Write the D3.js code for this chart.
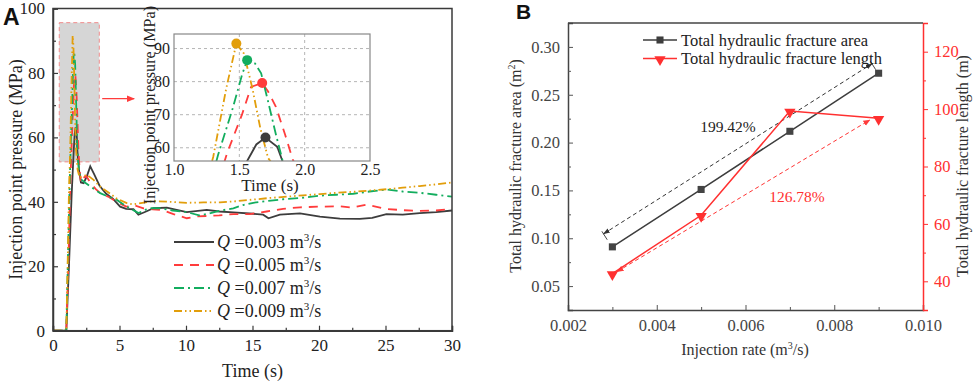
<!DOCTYPE html>
<html>
<head>
<meta charset="utf-8">
<script src="https://cdn.jsdelivr.net/npm/d3@7"></script>
<style>
  body { margin: 0; background: #fff; }
</style>
</head>
<body>
<svg id="chart" width="976" height="384"></svg>
<script>
// ---- panel A data: injection point pressure vs time ----
var timeTicksA = [0, 5, 10, 15, 20, 25, 30];
var pressTicksA = [0, 20, 40, 60, 80, 100];
var insetTimeTicks = [1.0, 1.5, 2.0, 2.5];
var insetPressTicks = [60, 70, 80, 90];
var rateLabels = ["0.003", "0.005", "0.007", "0.009"];

var pressure003 = [[0,0],[1.0,0],[1.2,20],[1.4,42],[1.56,56],[1.63,61],[1.70,63.1],[1.79,60.3],[1.83,56],[1.95,50],[2.1,46],[2.3,45.8],[2.55,48],[2.8,51],[3.1,48.5],[3.5,45],[4,42.5],[4.5,41],[5.05,38.5],[5.5,37.8],[6.05,37.7],[6.42,36],[7,37],[7.55,38],[8.56,38.2],[9.3,37.5],[10.06,36.8],[11.56,37.5],[12.5,37],[13.56,36.7],[15.06,36.3],[15.8,36],[16.2,34.9],[17.06,36],[18.57,36.4],[20.07,35.4],[21.57,34.8],[23.07,34.7],[24,35],[25.07,36.2],[26.3,36],[27.57,36.5],[28.8,36.8],[30,37.3]];
var pressure005 = [[0,0],[1.0,0],[1.15,20],[1.3,45],[1.41,58.8],[1.52,70],[1.59,78.4],[1.675,79.6],[1.72,77],[1.78,72.4],[1.85,64],[1.91,56.3],[2.0,50],[2.1,46],[2.3,47.5],[2.5,48],[2.8,46],[3.2,44],[3.6,42.5],[4.2,41.5],[4.8,40],[5.5,38.5],[6.2,38.8],[6.8,38],[7.5,37.7],[8.2,37.5],[9.06,36.2],[10.06,34.9],[10.8,35.5],[11.56,35.6],[12.5,35.8],[13.56,36.2],[14.8,36.2],[16.06,37],[17.3,37.8],[18.57,38.3],[20.07,38.5],[21.57,38.6],[22.5,38.2],[23.57,39.1],[25.07,37.8],[26.3,37.4],[27.57,37.2],[28.8,37.3],[30,37.8]];
var pressure007 = [[0,0],[1.0,0],[1.12,22],[1.25,45],[1.337,57.8],[1.45,72],[1.52,82],[1.56,86.5],[1.62,85.5],[1.667,82.5],[1.72,74],[1.78,64],[1.83,56.3],[1.95,50],[2.1,47],[2.4,46],[2.8,44.8],[3.55,42.7],[4.2,41.5],[4.8,40.6],[5.55,38.5],[6.0,37.5],[6.43,36.5],[6.9,37.5],[7.3,38],[8.05,38],[9.0,37.3],[10.06,36.8],[11.0,35.8],[11.56,36.2],[12.5,37.2],[13.56,38],[14.3,39],[15.06,39.7],[16.2,40.3],[17.3,40.8],[18.6,41.2],[20.07,41.9],[21.3,42.2],[22.57,42.5],[23.8,43.2],[25.07,43.8],[26.3,43.2],[27.57,42.8],[28.8,42.2],[30,41.6]];
var pressure009 = [[0,0],[1.0,0],[1.1,20],[1.2,43],[1.3,57.2],[1.4,78],[1.477,91.5],[1.535,88.5],[1.6,78],[1.66,66],[1.72,56.9],[1.85,50],[2.0,47.5],[2.3,48],[2.55,48.4],[3.05,46.8],[3.6,44.5],[4.2,42.8],[4.8,41],[5.55,39.6],[6.05,39.2],[6.6,39.6],[7.55,40.2],[8.8,40],[10.06,39.7],[11.3,39.8],[12.56,39.8],[13.8,40.2],[15.06,40.7],[16.3,41.2],[17.56,41.6],[18.8,42],[20.07,42.4],[21.3,42.8],[22.57,43.1],[23.8,43.5],[25.07,43.9],[26.3,44.4],[27.57,44.9],[28.8,45.4],[30,46.0]];
var peakPoints = [[1.70, 63.1], [1.675, 79.6], [1.56, 86.5], [1.477, 91.5]];

// ---- panel B data: fracture area / length vs injection rate ----
var rates = [0.003, 0.005, 0.007, 0.009];
var fracArea = [0.0910, 0.1510, 0.2118, 0.2725];
var fracLength = [42.7, 63.0, 99.3, 96.8];
var rateTicks = [0.002, 0.004, 0.006, 0.008, 0.010];
var areaTicks = [0.05, 0.10, 0.15, 0.20, 0.25, 0.30];
var lengthTicks = [40, 60, 80, 100, 120];

var colors = ["#3d3d3d", "#ff3c3c", "#12ad5e", "#e29e0b"];
var dashes = [null, "9,7", "10,4,2,4", "8,3,1.5,3,1.5,3"];
var seriesA = [pressure003, pressure005, pressure007, pressure009];

var serif = "'Liberation Serif', 'Times New Roman', serif";
var svg = d3.select("#chart");
var axisColor = "#3a3a3a";

// =================== Panel A ===================
var xA = d3.scaleLinear().domain([0, 30]).range([53, 452]);
var yA = d3.scaleLinear().domain([0, 100]).range([330.7, 8.5]);

svg.append("clipPath").attr("id", "clipA").append("rect")
  .attr("x", xA(0)).attr("y", yA(100)).attr("width", xA(30) - xA(0)).attr("height", yA(0) - yA(100));

var gA = svg.append("g");

// highlighted region of the spike
gA.append("rect")
  .attr("x", xA(0.47)).attr("y", yA(95.6))
  .attr("width", xA(3.48) - xA(0.47)).attr("height", yA(52.4) - yA(95.6))
  .attr("fill", "#d6d6d6").attr("stroke", "#f08a8a").attr("stroke-dasharray", "4,3").attr("stroke-width", 1);

var lineA = d3.line().x(function(d) { return xA(d[0]); }).y(function(d) { return yA(d[1]); });

var curvesA = gA.append("g").attr("clip-path", "url(#clipA)");
seriesA.forEach(function(s, i) {
  curvesA.append("path")
    .datum(s)
    .attr("d", lineA)
    .attr("fill", "none")
    .attr("stroke", colors[i])
    .attr("stroke-width", 1.8)
    .attr("stroke-dasharray", dashes[i]);
});

// axes A (ticks inward)
var axBottomA = d3.axisBottom(xA).tickValues(timeTicksA).tickSize(-5).tickPadding(8).tickFormat(d3.format("d"));
var axLeftA = d3.axisLeft(yA).tickValues(pressTicksA).tickSize(-5).tickPadding(8).tickFormat(d3.format("d"));
var gxA = gA.append("g").attr("transform", "translate(0," + yA(0) + ")").call(axBottomA);
var gyA = gA.append("g").attr("transform", "translate(" + xA(0) + ",0)").call(axLeftA);
// minor ticks
gA.append("g").attr("transform", "translate(0," + yA(0) + ")")
  .call(d3.axisBottom(xA).tickValues(d3.range(2.5, 30, 5)).tickSize(-3).tickFormat(""));
gA.append("g").attr("transform", "translate(" + xA(0) + ",0)")
  .call(d3.axisLeft(yA).tickValues(d3.range(10, 100, 20)).tickSize(-3).tickFormat(""));
// frame
gA.append("rect").attr("x", xA(0)).attr("y", yA(100)).attr("width", xA(30) - xA(0)).attr("height", yA(0) - yA(100))
  .attr("fill", "none").attr("stroke", axisColor).attr("stroke-width", 1.5);

[gxA, gyA].forEach(function(g) {
  g.select(".domain").attr("stroke", axisColor).attr("stroke-width", 1.5);
  g.selectAll(".tick text").attr("fill", "#222").attr("font-size", 17);
});
gA.selectAll(".domain").attr("stroke", axisColor);
gA.selectAll(".tick line").attr("stroke", axisColor).attr("stroke-width", 1.2);

gA.append("text").attr("x", (xA(0) + xA(30)) / 2).attr("y", 377).attr("text-anchor", "middle")
  .attr("font-size", 18).attr("fill", "#222").text("Time (s)");
gA.append("text").attr("transform", "translate(22," + yA(50) + ") rotate(-90)").attr("text-anchor", "middle")
  .attr("font-size", 18).attr("fill", "#222").text("Injection point pressure (MPa)");

// arrowheads
svg.append("defs").html(
  '<marker id="arrRed" viewBox="0 0 10 10" refX="9" refY="5" markerWidth="7" markerHeight="7" orient="auto-start-reverse"><path d="M0,1 L10,5 L0,9 z" fill="#ff3c3c"/></marker>' +
  '<marker id="arrBlack" viewBox="0 0 10 10" refX="9" refY="5" markerWidth="7" markerHeight="7" orient="auto-start-reverse"><path d="M0,1.5 L10,5 L0,8.5 z" fill="#333"/></marker>'
);
// red arrow pointing to the inset
gA.append("line").attr("x1", xA(3.7)).attr("x2", xA(6.1)).attr("y1", yA(72)).attr("y2", yA(72))
  .attr("stroke", "#ff3c3c").attr("stroke-width", 1.2).attr("marker-end", "url(#arrRed)");

// legend A
var legA = gA.append("g");
rateLabels.forEach(function(r, i) {
  var ly = 242 + i * 23;
  legA.append("line").attr("x1", 174).attr("x2", 214).attr("y1", ly).attr("y2", ly)
    .attr("stroke", colors[i]).attr("stroke-width", 1.8).attr("stroke-dasharray", dashes[i]);
  var t = legA.append("text").attr("x", 217).attr("y", ly + 6).attr("font-size", 18).attr("fill", "#222");
  t.append("tspan").attr("font-style", "italic").text("Q");
  t.append("tspan").text(" =" + r + " m");
  t.append("tspan").attr("font-size", 11).attr("dy", -7).text("3");
  t.append("tspan").attr("dy", 7).text("/s");
});

// ---- inset ----
var xI = d3.scaleLinear().domain([1.0, 2.5]).range([174, 370]);
var yI = d3.scaleLinear().domain([56, 94.4]).range([161, 34]);
svg.append("clipPath").attr("id", "clipI").append("rect")
  .attr("x", xI(1.0)).attr("y", yI(94.4)).attr("width", xI(2.5) - xI(1.0)).attr("height", yI(56) - yI(94.4));
var gI = svg.append("g");
gI.append("rect").attr("x", xI(1.0)).attr("y", yI(94.4)).attr("width", xI(2.5) - xI(1.0)).attr("height", yI(56) - yI(94.4))
  .attr("fill", "#fff");
gI.append("g").selectAll("line").data([1.5, 2.0]).join("line")
  .attr("x1", function(d) { return xI(d); }).attr("x2", function(d) { return xI(d); })
  .attr("y1", yI(94.4)).attr("y2", yI(56)).attr("stroke", "#b5b5b5").attr("stroke-dasharray", "3,3");
gI.append("g").selectAll("line").data(insetPressTicks).join("line")
  .attr("y1", function(d) { return yI(d); }).attr("y2", function(d) { return yI(d); })
  .attr("x1", xI(1.0)).attr("x2", xI(2.5)).attr("stroke", "#b5b5b5").attr("stroke-dasharray", "3,3");

var lineI = d3.line().x(function(d) { return xI(d[0]); }).y(function(d) { return yI(d[1]); });
var curvesI = gI.append("g").attr("clip-path", "url(#clipI)");
seriesA.forEach(function(s, i) {
  curvesI.append("path").datum(s).attr("d", lineI).attr("fill", "none")
    .attr("stroke", colors[i]).attr("stroke-width", 1.8).attr("stroke-dasharray", dashes[i]);
});
gI.append("g").selectAll("circle").data(peakPoints).join("circle")
  .attr("cx", function(d) { return xI(d[0]); }).attr("cy", function(d) { return yI(d[1]); })
  .attr("r", 5).attr("fill", function(d, i) { return colors[i]; });

var gxI = gI.append("g").attr("transform", "translate(0," + yI(56) + ")")
  .call(d3.axisBottom(xI).tickValues(insetTimeTicks).tickSize(0).tickPadding(3).tickFormat(d3.format(".1f")));
var gyI = gI.append("g").attr("transform", "translate(" + xI(1.0) + ",0)")
  .call(d3.axisLeft(yI).tickValues(insetPressTicks).tickSize(0).tickPadding(4).tickFormat(d3.format("d")));
[gxI, gyI].forEach(function(g) {
  g.select(".domain").remove();
  g.selectAll(".tick text").attr("fill", "#222").attr("font-size", 16);
});
gI.append("rect").attr("x", xI(1.0)).attr("y", yI(94.4)).attr("width", xI(2.5) - xI(1.0)).attr("height", yI(56) - yI(94.4))
  .attr("fill", "none").attr("stroke", "#888").attr("stroke-width", 1.2);
gI.append("text").attr("x", 270).attr("y", 191).attr("text-anchor", "middle")
  .attr("font-size", 17).attr("fill", "#222").text("Time (s)");
gI.append("text").attr("transform", "translate(155,105) rotate(-90)").attr("text-anchor", "middle")
  .attr("font-size", 16.2).attr("fill", "#222").text("Injection point pressure (MPa)");

// =================== Panel B ===================
var xB = d3.scaleLinear().domain([0.002, 0.010]).range([568, 923]);
var yL = d3.scaleLinear().domain([0.025, 0.325]).range([310, 23]);
var yR = d3.scaleLinear().domain([30, 130]).range([310, 23]);
var red = "#ff3030";
var gB = svg.append("g");

// reference dimension lines (annotation, in data units)
var areaRef = [[0.0028, 0.1046], [0.00885, 0.2824]];
var lengthRef = [[0.00311, 43.4], [0.00880, 96.2]];
gB.append("line")
  .attr("x1", xB(areaRef[0][0])).attr("y1", yL(areaRef[0][1]))
  .attr("x2", xB(areaRef[1][0])).attr("y2", yL(areaRef[1][1]))
  .attr("stroke", "#333").attr("stroke-width", 1).attr("stroke-dasharray", "4,3")
  .attr("marker-start", "url(#arrBlack)").attr("marker-end", "url(#arrBlack)");
(function() {
  var x1 = xB(areaRef[0][0]), y1 = yL(areaRef[0][1]), x2 = xB(areaRef[1][0]), y2 = yL(areaRef[1][1]);
  var dx = x2 - x1, dy = y2 - y1, len = Math.sqrt(dx * dx + dy * dy);
  var px = -dy / len, py = dx / len;
  [[x1, y1], [x2, y2]].forEach(function(p) {
    gB.append("line").attr("x1", p[0] - px * 3).attr("y1", p[1] - py * 3)
      .attr("x2", p[0] + px * 7).attr("y2", p[1] + py * 7).attr("stroke", "#333").attr("stroke-width", 0.9);
  });
})();
gB.append("line")
  .attr("x1", xB(lengthRef[0][0])).attr("y1", yR(lengthRef[0][1]))
  .attr("x2", xB(lengthRef[1][0])).attr("y2", yR(lengthRef[1][1]))
  .attr("stroke", red).attr("stroke-width", 1).attr("stroke-dasharray", "4,3")
  .attr("marker-start", "url(#arrRed)").attr("marker-end", "url(#arrRed)");

var lineArea = d3.line().x(function(d, i) { return xB(rates[i]); }).y(function(d) { return yL(d); });
var lineLen = d3.line().x(function(d, i) { return xB(rates[i]); }).y(function(d) { return yR(d); });
gB.append("path").datum(fracArea).attr("d", lineArea).attr("fill", "none").attr("stroke", "#3d3d3d").attr("stroke-width", 1.5);
gB.append("path").datum(fracLength).attr("d", lineLen).attr("fill", "none").attr("stroke", red).attr("stroke-width", 1.5);

var sq = d3.symbol().type(d3.symbolSquare).size(50);
var tri = d3.symbol().type(d3.symbolTriangle).size(55);
gB.append("g").selectAll("path").data(fracArea).join("path")
  .attr("d", sq).attr("fill", "#444")
  .attr("transform", function(d, i) { return "translate(" + xB(rates[i]) + "," + yL(d) + ")"; });
gB.append("g").selectAll("path").data(fracLength).join("path")
  .attr("d", tri).attr("fill", red)
  .attr("transform", function(d, i) { return "translate(" + xB(rates[i]) + "," + (yR(d) + 1) + ") rotate(180)"; });

var gxB = gB.append("g").attr("transform", "translate(0,310)")
  .call(d3.axisBottom(xB).tickValues(rateTicks).tickSize(-5).tickPadding(9).tickFormat(d3.format(".3f")));
var gyL = gB.append("g").attr("transform", "translate(568,0)")
  .call(d3.axisLeft(yL).tickValues(areaTicks).tickSize(-5).tickPadding(8).tickFormat(d3.format(".2f")));
var gyR = gB.append("g").attr("transform", "translate(923,0)")
  .call(d3.axisRight(yR).tickValues(lengthTicks).tickSize(5).tickPadding(6).tickFormat(d3.format("d")));
gB.append("g").attr("transform", "translate(0,310)")
  .call(d3.axisBottom(xB).tickValues(d3.range(0.003, 0.0100, 0.002)).tickSize(-3).tickFormat(""))
  .call(function(g) { g.select(".domain").remove(); g.selectAll("line").attr("stroke", "#555"); });
gB.append("g").attr("transform", "translate(568,0)")
  .call(d3.axisLeft(yL).tickValues(d3.range(0.075, 0.32, 0.05)).tickSize(-3).tickFormat(""))
  .call(function(g) { g.select(".domain").remove(); g.selectAll("line").attr("stroke", "#555"); });
gB.append("g").attr("transform", "translate(923,0)")
  .call(d3.axisRight(yR).tickValues(d3.range(50, 121, 20)).tickSize(3).tickFormat(""))
  .call(function(g) { g.select(".domain").remove(); g.selectAll("line").attr("stroke", red); });
// top frame line
gB.append("line").attr("x1", 568).attr("x2", 923).attr("y1", 23).attr("y2", 23).attr("stroke", "#444").attr("stroke-width", 1.5);

[gxB, gyL].forEach(function(g) {
  g.select(".domain").attr("stroke", "#444").attr("stroke-width", 1.5);
  g.selectAll(".tick line").attr("stroke", "#555");
  g.selectAll(".tick text").attr("fill", "#444").attr("font-size", 16.5);
});
gyR.select(".domain").attr("stroke", red).attr("stroke-width", 1.5);
gyR.selectAll(".tick line").attr("stroke", red);
gyR.selectAll(".tick text").attr("fill", red).attr("font-size", 16.5);

// labels B
var lx = gB.append("text").attr("x", 745).attr("y", 355).attr("text-anchor", "middle").attr("font-size", 16).attr("fill", "#333");
lx.append("tspan").text("Injection rate (m");
lx.append("tspan").attr("font-size", 10).attr("dy", -6).text("3");
lx.append("tspan").attr("dy", 6).text("/s)");
var ly = gB.append("text").attr("transform", "translate(521,166) rotate(-90)").attr("text-anchor", "middle").attr("font-size", 16).attr("fill", "#333");
ly.append("tspan").text("Total hydraulic fracture area (m");
ly.append("tspan").attr("font-size", 10).attr("dy", -6).text("2");
ly.append("tspan").attr("dy", 6).text(")");
gB.append("text").attr("transform", "translate(968,166) rotate(-90)").attr("text-anchor", "middle")
  .attr("font-size", 16).attr("fill", "#333").text("Total hydraulic fracture length (m)");

gB.append("text").attr("x", 728).attr("y", 132).attr("text-anchor", "middle").attr("font-size", 15.5).attr("fill", "#222").text("199.42%");
gB.append("text").attr("x", 797).attr("y", 202).attr("text-anchor", "middle").attr("font-size", 15.5).attr("fill", red).text("126.78%");

// legend B
var legB = [["Total hydraulic fracture area", "#3d3d3d", sq, 0], ["Total hydraulic fracture length", red, tri, 180]];
legB.forEach(function(l, i) {
  var yy = 40 + i * 18.5;
  gB.append("line").attr("x1", 643).attr("x2", 677).attr("y1", yy).attr("y2", yy).attr("stroke", l[1]).attr("stroke-width", 1.5);
  gB.append("path").attr("d", l[2]).attr("fill", l[1]).attr("transform", "translate(660," + (yy + (l[3] ? 1 : 0)) + ") rotate(" + l[3] + ")");
  gB.append("text").attr("x", 681).attr("y", yy + 5.5).attr("font-size", 16.5).attr("fill", "#222").text(l[0]);
});

// every text in serif, then the two bold panel letters in sans
svg.selectAll("text").style("font-family", serif);
svg.append("text").attr("x", 3).attr("y", 25).attr("font-size", 23).attr("font-weight", "bold")
  .style("font-family", "'Liberation Sans', Arial, sans-serif").attr("fill", "#111").text("A");
svg.append("text").attr("x", 516).attr("y", 19).attr("font-size", 21).attr("font-weight", "bold")
  .style("font-family", "'Liberation Sans', Arial, sans-serif").attr("fill", "#111").text("B");
</script>
</body>
</html>
